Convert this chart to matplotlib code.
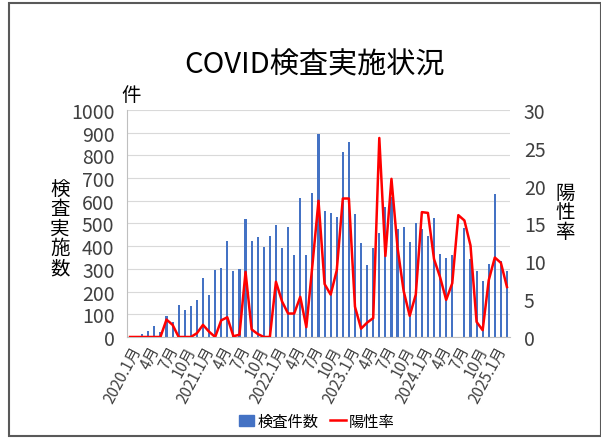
import numpy as np
import matplotlib
matplotlib.use("Agg")
import matplotlib.pyplot as plt
from matplotlib.patches import Rectangle
from matplotlib.lines import Line2D

plt.rcParams['font.family'] = ['Noto Sans CJK JP', 'DejaVu Sans']

# monthly data, 2020.1 .. 2025.3
tests = [0, 0, 14, 25, 47, 21, 92, 65, 141, 120, 137, 162, 258, 185, 297,
         302, 423, 291, 300, 519, 423, 439, 396, 446, 493, 392, 483, 361,
         611, 361, 633, 894, 554, 546, 529, 814, 861, 540, 413, 317, 392,
         457, 574, 617, 474, 484, 419, 502, 474, 447, 523, 367, 347, 361,
         0, 482, 344, 289, 248, 322, 630, 333, 289]
positive_rate = [0, 0, 0, 0, 0, 0, 2.3, 1.6, 0, 0, 0, 0.5, 1.6, 0.7, 0,
                 2.2, 2.6, 0.1, 0.3, 8.6, 1.0, 0.4, 0, 0, 7.3, 4.7, 3.1, 3.1,
                 5.3, 1.3, 9.5, 18.0, 7.0, 5.6, 8.8, 18.3, 18.3, 4.0, 1.1,
                 1.9, 2.5, 26.3, 10.7, 20.9, 11.8, 6.1, 2.8, 5.6, 16.5, 16.4,
                 10.3, 7.9, 4.9, 7.1, 16.1, 15.4, 12.1, 2.0, 0.9, 7.5, 10.5,
                 9.8, 6.6]
tick_labels = ["2020.1月", "4月", "7月", "10月",
               "2021.1月", "4月", "7月", "10月",
               "2022.1月", "4月", "7月", "10月",
               "2023.1月", "4月", "7月", "10月",
               "2024.1月", "4月", "7月", "10月",
               "2025.1月"]

x = np.arange(len(tests))

fig = plt.figure(figsize=(6.01, 4.39), dpi=100)
ax1 = fig.add_axes([0.2113, 0.2301, 0.6373, 0.5171])

# Bars on left axis
ax1.bar(x, tests, width=0.35, color='#4472C4', zorder=2)
ax1.set_xlim(-0.5, len(tests) - 0.5)
ax1.set_ylim(0, 1000)
ax1.set_yticks(np.arange(0, 1001, 100))
ax1.grid(axis='y', color='#d9d9d9', linewidth=0.8, zorder=0)
ax1.tick_params(axis='y', length=0, pad=9, labelsize=14, labelcolor='#404040')
ax1.set_xticks(x[::3])
ax1.set_xticklabels(tick_labels, rotation=62, ha='right',
                    rotation_mode='anchor', fontsize=11)
ax1.tick_params(axis='x', length=0, pad=4, labelcolor='#404040')
for s in ['top', 'right']:
    ax1.spines[s].set_visible(False)
ax1.spines['left'].set_color('#bfbfbf')
ax1.spines['bottom'].set_color('#bfbfbf')

# Positive rate on right axis
ax2 = ax1.twinx()
ax2.plot(x, positive_rate, color='#ff0000', linewidth=1.8, zorder=3)
ax2.set_ylim(0, 30)
ax2.set_yticks(np.arange(0, 31, 5))
ax2.tick_params(axis='y', length=0, pad=10, labelsize=14, labelcolor='#404040')
for s in ['top', 'right', 'left', 'bottom']:
    ax2.spines[s].set_visible(False)

# Titles and labels
fig.text(0.524, 0.852, "COVID検査実施状況", ha='center', va='center',
         fontsize=21, color='#000000')
fig.text(0.218, 0.782, "件", ha='center', va='center', fontsize=14)
fig.text(0.1, 0.478, "検\n査\n実\n施\n数", ha='center', va='center',
         fontsize=14, linespacing=0.92)
fig.text(0.94, 0.515, "陽\n性\n率", ha='center', va='center',
         fontsize=14, linespacing=0.92)

# Legend
handles = [Rectangle((0, 0), 1, 1, color='#4472C4'),
           Line2D([0], [0], color='#ff0000', linewidth=1.8)]
fig.legend(handles, ["検査件数", "陽性率"], loc='center',
           bbox_to_anchor=(0.527, 0.038), ncol=2, frameon=False,
           fontsize=11, handlelength=1.0, handleheight=0.7,
           handletextpad=0.2, columnspacing=0.8)

# Outer frame
fig.patches.append(Rectangle((0.015, 0.005), 0.985, 0.985,
                             transform=fig.transFigure, fill=False,
                             edgecolor='#595959', linewidth=1.5))

fig.savefig("out.png", dpi=100)
